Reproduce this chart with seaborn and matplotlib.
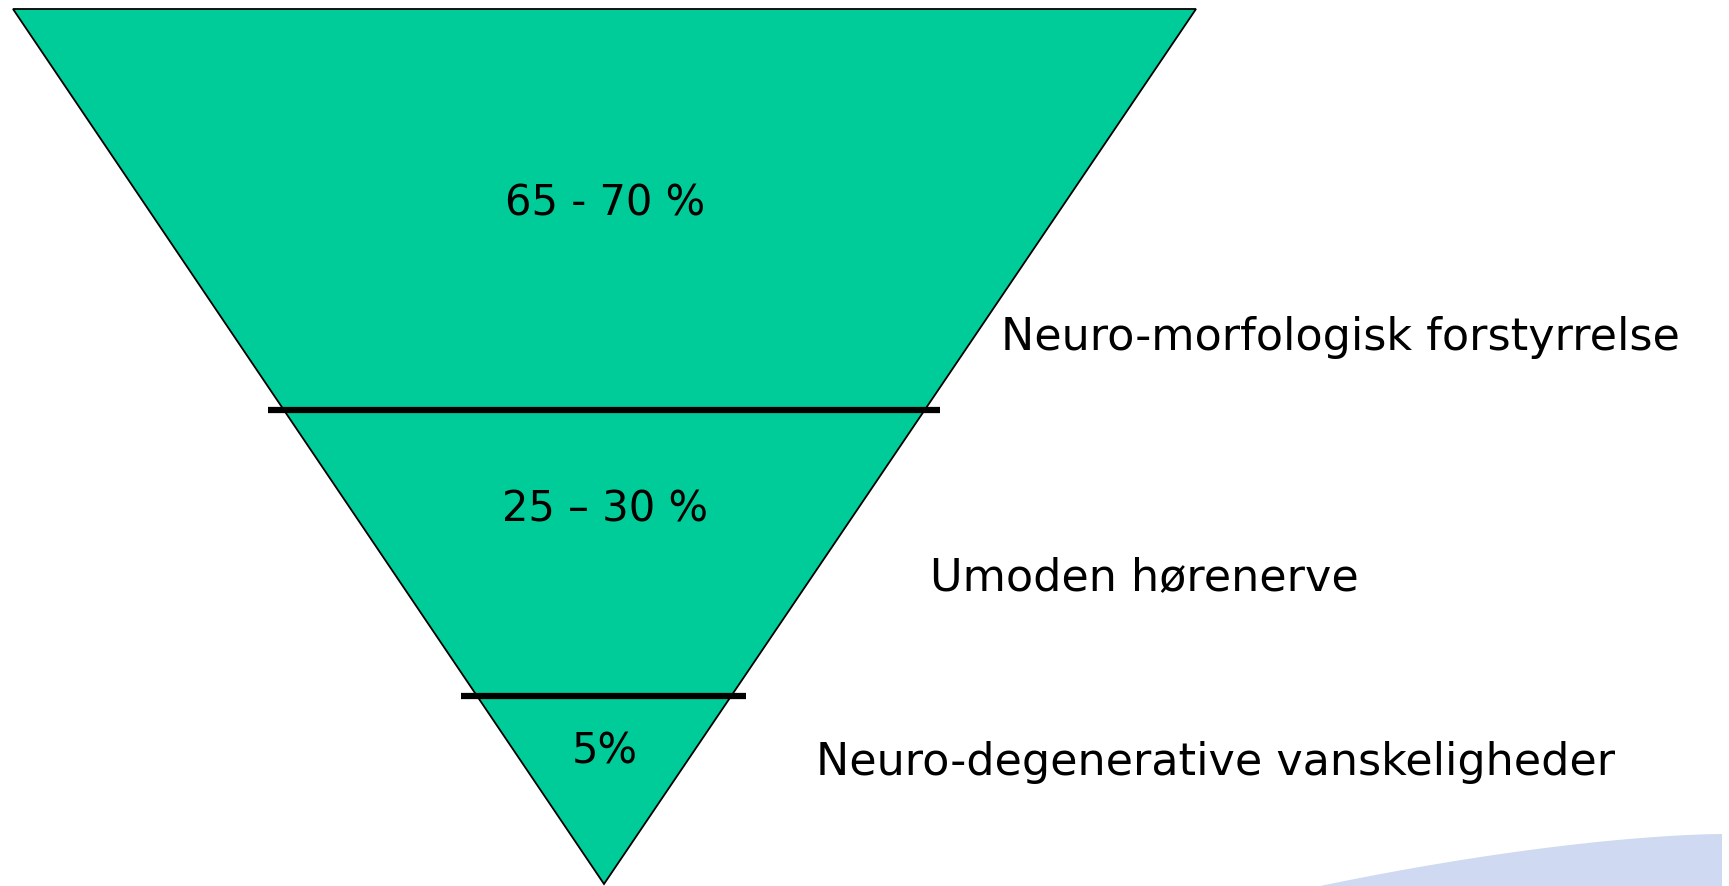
import numpy as np
import matplotlib
matplotlib.use("Agg")
import matplotlib.pyplot as plt
import seaborn as sns
import pandas as pd

# ---- data ----
segment_values = ["65 - 70 %", "25 – 30 %", "5%"]
segment_labels = ["Neuro-morfologisk forstyrrelse", "Umoden hørenerve",
                  "Neuro-degenerative vanskeligheder"]
# depth of the boundaries between segments (fraction of funnel height)
boundary_depth = [0.458, 0.785]

sns.set_theme(style="white")
plt.rcParams['font.family'] = ['DejaVu Sans']

W, H = 1729, 887
fig = plt.figure(figsize=(W / 100, H / 100), dpi=100)
ax = fig.add_axes([0, 0, 1, 1])

# funnel geometry (pixel space)
top_y, apex_y = 10, 885
left_x, right_x, apex_x = 13, 1196, 604

# background swoosh
sx = np.linspace(1320, 1722, 50)
t = (sx - 1320) / (1722 - 1320)
sy = 887 - 52 * (1 - (1 - t) ** 1.6)
ax.fill(np.r_[sx, 1722, 1320], np.r_[sy, 887, 887], color="#CFD9F2", lw=0, zorder=0)

# triangle
ax.fill([left_x, right_x, apex_x], [top_y, top_y, apex_y],
        facecolor="#00CC99", edgecolor="black", lw=1.3, zorder=1)

# boundaries
def edge_x(d):
    xl = left_x + (apex_x - left_x) * d
    xr = right_x - (right_x - apex_x) * d
    return xl, xr

df_lines = []
for i, d in enumerate(boundary_depth):
    y = top_y + (apex_y - top_y) * d
    xl, xr = edge_x(d)
    df_lines.append(pd.DataFrame({"x": [xl - 16, xr + 15], "y": [y, y], "g": i}))
df_lines = pd.concat(df_lines)
sns.lineplot(data=df_lines, x="x", y="y", units="g", estimator=None,
             color="black", lw=4.5, ax=ax, legend=False, zorder=2,
             solid_capstyle="butt")
ax.set_xlim(0, W)
ax.set_ylim(H, 0)
ax.axis("off")

# segment value texts
value_y = [204, 510, 752]
for txt, y in zip(segment_values, value_y):
    ax.text(605, y, txt, ha="center", va="center", fontsize=30, color="black", zorder=3)

# right labels
label_pos = [(1001, 338), (930, 578), (816, 763)]
for txt, (x, y) in zip(segment_labels, label_pos):
    ax.text(x, y, txt, ha="left", va="center", fontsize=32, color="black", zorder=3)

fig.savefig("out.png", dpi=100, facecolor="white")
